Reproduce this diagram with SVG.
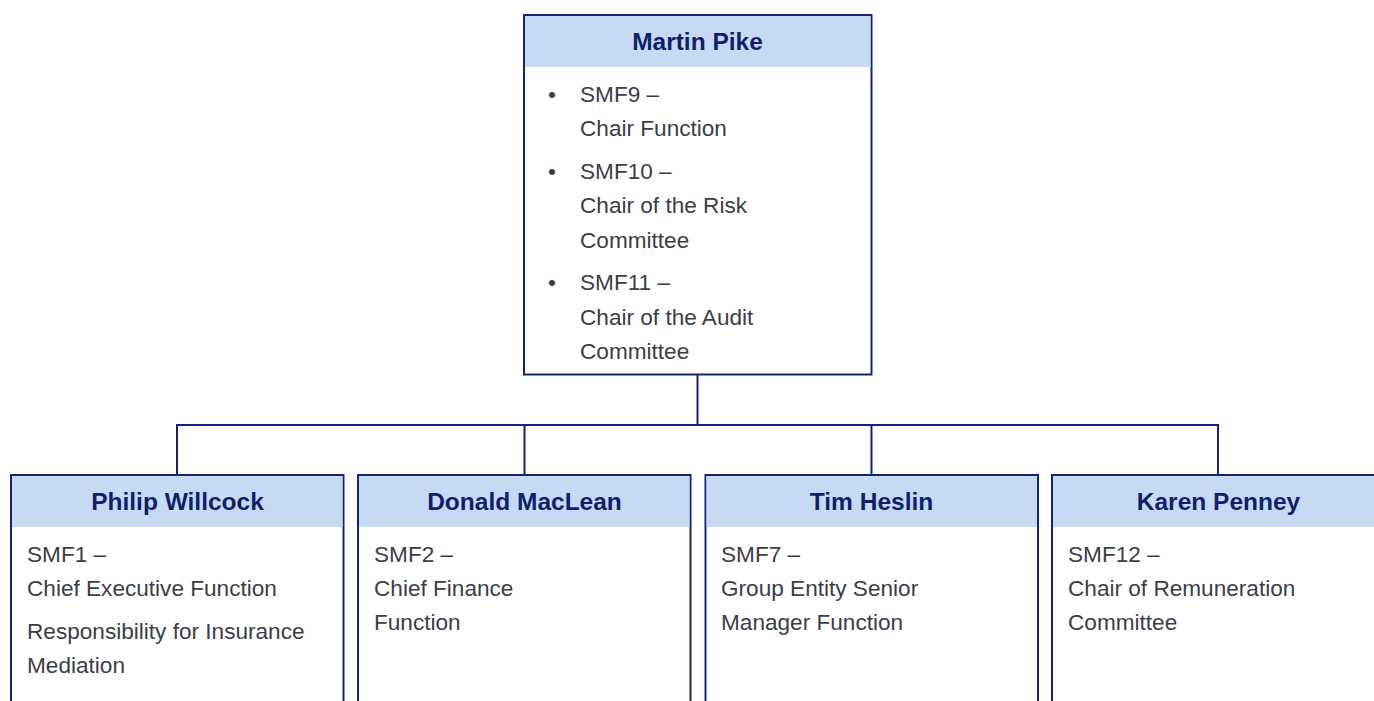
<svg xmlns="http://www.w3.org/2000/svg" width="1374" height="701" viewBox="0 0 1374 701">
<style>
.box{fill:#ffffff;stroke:#13237a;stroke-width:2}
.hdr{fill:#c6dbf3}
.title{font-family:"Liberation Sans",Arial,sans-serif;font-weight:bold;font-size:24.5px;fill:#0f1f6e;text-anchor:middle}
.body{font-family:"Liberation Sans",Arial,sans-serif;font-size:22.6px;fill:#3b3e46}
.conn{fill:none;stroke:#13237a;stroke-width:2}
</style>
<rect width="1374" height="701" fill="#ffffff"/>
<g id="connectors">
<path class="conn" d="M697.5 375 V425"/>
<path class="conn" d="M177 425 H1218 M177 424 V475 M524.5 424 V475 M871.5 424 V475 M1218 424 V475" stroke-width="1.5"/>
</g>
<g id="martin-pike">
<rect class="box" x="524" y="15" width="347.5" height="359.5"/>
<rect class="hdr" x="525" y="16" width="345.5" height="51"/>
<text class="title" x="697.5" y="50">Martin Pike</text>
<text class="body" x="548" y="102" font-size="19">•</text>
<text class="body" x="580" y="102">SMF9 –</text>
<text class="body" x="580" y="136">Chair Function</text>
<text class="body" x="548" y="179" font-size="19">•</text>
<text class="body" x="580" y="179">SMF10 –</text>
<text class="body" x="580" y="213">Chair of the Risk</text>
<text class="body" x="580" y="248">Committee</text>
<text class="body" x="548" y="290" font-size="19">•</text>
<text class="body" x="580" y="290">SMF11 –</text>
<text class="body" x="580" y="325">Chair of the Audit</text>
<text class="body" x="580" y="359">Committee</text>
</g>
<g id="philip-willcock">
<rect class="box" x="11" y="475" width="332.5" height="250"/>
<rect class="hdr" x="12" y="476" width="330.5" height="51"/>
<text class="title" x="177.5" y="510">Philip Willcock</text>
<text class="body" x="27" y="562">SMF1 –</text>
<text class="body" x="27" y="596">Chief Executive Function</text>
<text class="body" x="27" y="639">Responsibility for Insurance</text>
<text class="body" x="27" y="673">Mediation</text>
</g>
<g id="donald-maclean">
<rect class="box" x="358" y="475" width="332.5" height="250"/>
<rect class="hdr" x="359" y="476" width="330.5" height="51"/>
<text class="title" x="524.5" y="510">Donald MacLean</text>
<text class="body" x="374" y="562">SMF2 –</text>
<text class="body" x="374" y="596">Chief Finance</text>
<text class="body" x="374" y="630">Function</text>
</g>
<g id="tim-heslin">
<rect class="box" x="705.5" y="475" width="332.5" height="250"/>
<rect class="hdr" x="706.5" y="476" width="330.5" height="51"/>
<text class="title" x="871.5" y="510">Tim Heslin</text>
<text class="body" x="721" y="562">SMF7 –</text>
<text class="body" x="721" y="596">Group Entity Senior</text>
<text class="body" x="721" y="630">Manager Function</text>
</g>
<g id="karen-penney">
<rect class="box" x="1052" y="475" width="332.5" height="250"/>
<rect class="hdr" x="1053" y="476" width="330.5" height="51"/>
<text class="title" x="1218.5" y="510">Karen Penney</text>
<text class="body" x="1068" y="562">SMF12 –</text>
<text class="body" x="1068" y="596">Chair of Remuneration</text>
<text class="body" x="1068" y="630">Committee</text>
</g>
</svg>
